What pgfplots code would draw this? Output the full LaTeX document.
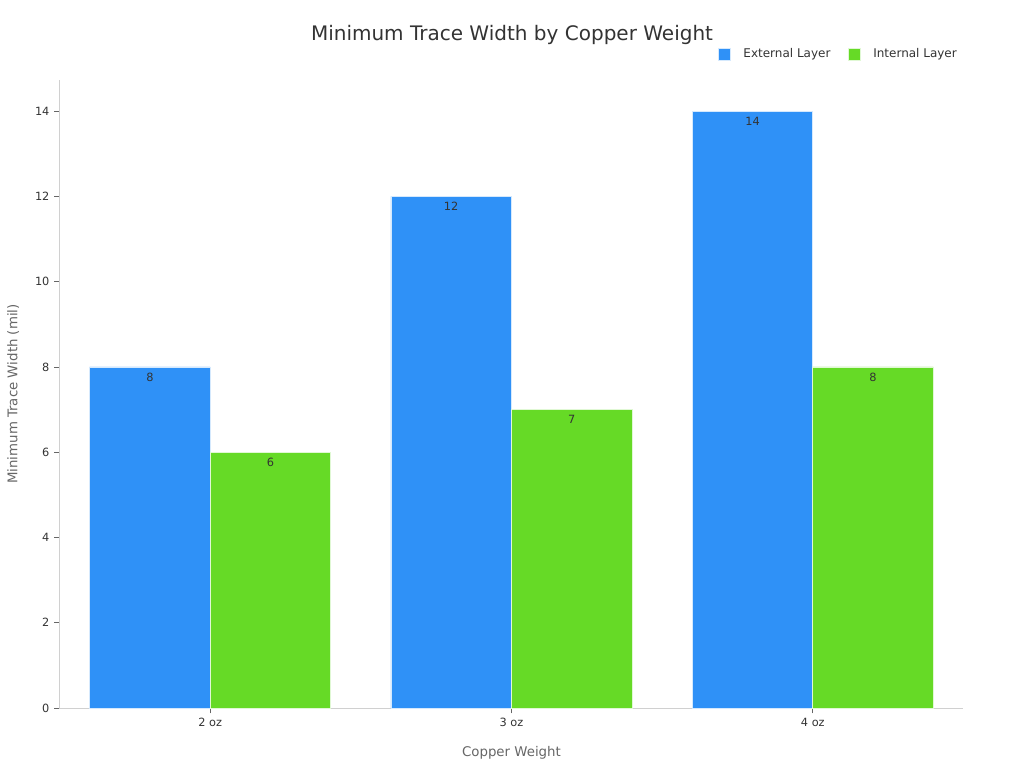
\documentclass[border=0pt]{standalone}
\usepackage{pgfplots}
\pgfplotsset{compat=1.18}
\usepackage{fontspec}
\setmainfont{DejaVu Sans}
\definecolor{extblue}{HTML}{2F91F7}
\definecolor{intgreen}{HTML}{66DA26}
\definecolor{txt}{HTML}{333333}
\definecolor{lbl}{HTML}{666666}
\definecolor{spine}{HTML}{D0D0D0}
\begin{document}
\begin{tikzpicture}
\path[use as bounding box] (0pt,0pt) rectangle (768pt,576pt);
\node[text=txt, font=\fontsize{15}{17}\selectfont] at (384pt,549.5pt) {Minimum Trace Width by Copper Weight};
\begin{axis}[
  at={(44.6pt,45pt)}, anchor=south west,
  scale only axis, width=678pt, height=471pt,
  xmin=-0.5, xmax=2.5, ymin=0, ymax=14.73,
  ybar=0pt, bar width=0.4,
  xtick={0,1,2}, xticklabels={2 oz,3 oz,4 oz},
  ytick={0,2,4,6,8,10,12,14},
  axis x line*=bottom, axis y line*=left,
  axis line style={spine, line width=0.6pt, -},
  tick align=outside, major tick length=4pt,
  tick style={lbl, line width=0.6pt},
  ticklabel style={text=txt, font=\fontsize{8.5}{10}\selectfont},
  /pgf/number format/assume math mode=true,
  xlabel={Copper Weight}, ylabel={Minimum Trace Width (mil)},
  label style={text=lbl, font=\fontsize{10}{12}\selectfont},
  xlabel style={yshift=-8pt},
  ylabel style={yshift=5pt},
  nodes near coords,
  nodes near coords style={anchor=north, text=txt, font=\fontsize{8.5}{10}\selectfont, inner sep=1pt, yshift=-3pt},
  legend columns=2,
  legend style={at={(0.862,1.041)}, anchor=center, draw=none, fill=none,
    font=\fontsize{9}{11}\selectfont, text=txt,
    /tikz/every odd column/.append style={column sep=7.5pt},
    /tikz/every even column/.append style={column sep=11pt}},
  legend image code/.code={\fill[#1] (0pt,-4.5pt) rectangle (9pt,4.5pt);},
  clip=false,
]
\addplot[fill=extblue, draw=white!80!extblue, line width=0.6pt] coordinates {(0,8) (1,12) (2,14)};
\addplot[fill=intgreen, draw=white!80!intgreen, line width=0.6pt] coordinates {(0,6) (1,7) (2,8)};
\legend{External Layer, Internal Layer}
\end{axis}
\end{tikzpicture}
\end{document}
